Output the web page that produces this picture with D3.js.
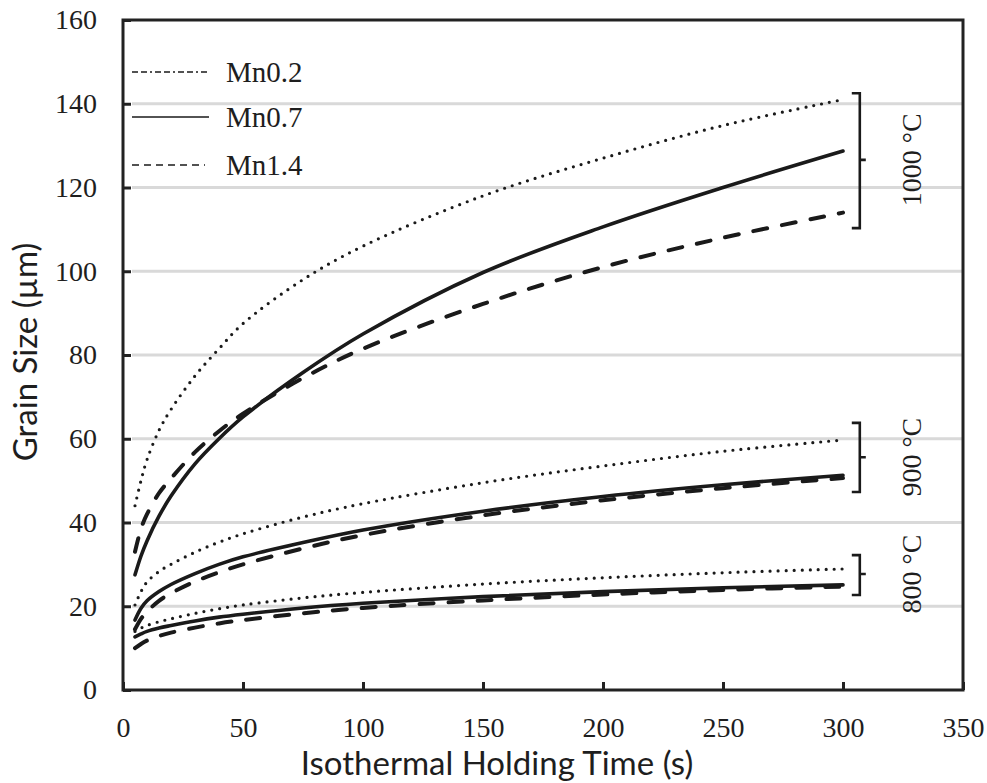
<!DOCTYPE html>
<html>
<head>
<meta charset="utf-8">
<script src="https://cdn.jsdelivr.net/npm/d3@7"></script>
<style>
  body { margin: 0; background: #fff; }
  svg text { fill: #1e1e1e; }
</style>
</head>
<body>
<div id="chart"></div>
<script>
const times = [5, 7.5, 10, 15, 20, 30, 40, 50, 75, 100, 150, 200, 250, 300]

// 1000 C
const mn02_1000 = [44, 50, 55, 62, 67, 75, 81.5, 87.5, 98, 106, 118, 127, 134.8, 141]
const mn07_1000 = [27.5, 32, 35.6, 41.5, 46.3, 54, 60, 65.2, 75.8, 85, 99.7, 110.6, 120, 128.7]
const mn14_1000 = [33, 38.5, 42, 47, 50.5, 56.8, 61.8, 66, 74.5, 81.5, 92.2, 101, 108, 114]
// 900 C
const mn02_900 = [20.3, 23.5, 25.8, 28.3, 30, 32.9, 35.3, 37.3, 41.3, 44.5, 49.5, 53.5, 57, 59.7]
const mn07_900 = [16.7, 19.5, 21.3, 23.5, 25.2, 27.8, 30, 31.8, 35.2, 38.2, 42.7, 46.2, 49, 51.3]
const mn14_900 = [14.5, 17, 18.7, 21.3, 23.1, 25.9, 28.1, 30, 33.8, 37, 41.7, 45.3, 48.2, 50.6]
// 800 C
const mn02_800 = [14, 14.8, 15.4, 16.3, 17, 18.3, 19.4, 20.3, 22, 23.3, 25.3, 26.8, 28, 28.9]
const mn07_800 = [12.7, 13.4, 14, 14.8, 15.4, 16.5, 17.4, 18.1, 19.6, 20.7, 22.3, 23.5, 24.4, 25.1]
const mn14_800 = [10, 11, 11.8, 12.9, 13.7, 14.9, 15.9, 16.7, 18.3, 19.6, 21.4, 22.8, 23.9, 24.7]

const legendNames = ["Mn0.2", "Mn0.7", "Mn1.4"]
const tempLabels = ["1000 °C", "900 °C", "800 °C"]
const bracketTop = [142.5, 63.8, 32.2]
const bracketBottom = [110.3, 47.3, 22.7]
const bracketMid = [126.6, 55.6, 27.7]
const bracketTime = 307

const xTicks = [0, 50, 100, 150, 200, 250, 300, 350]
const yTicks = [0, 20, 40, 60, 80, 100, 120, 140, 160]

const w = 987
const h = 783
const mLeft = 123, mRight = 963, mTop = 20, mBottom = 690

var svg = d3.select("#chart").append("svg")
    .attr("width", w).attr("height", h)

var x = d3.scaleLinear().domain([0, 350]).range([mLeft, mRight])
var y = d3.scaleLinear().domain([0, 160]).range([mBottom, mTop])

// gridlines
svg.selectAll(".grid").data(yTicks.filter(d => d > 0 && d < 160))
    .enter().append("line")
    .attr("class", "grid")
    .attr("x1", mLeft + 9).attr("x2", mRight)
    .attr("y1", d => y(d)).attr("y2", d => y(d))
    .attr("stroke", "#d9d9d9").attr("stroke-width", 3)

// styles per Mn level
const styles = [
    { width: 3.2, dash: "0,8" },
    { width: 3.6, dash: null },
    { width: 4, dash: "14,15" }
]

const series = [
    [mn02_1000, 0], [mn07_1000, 1], [mn14_1000, 2],
    [mn02_900, 0], [mn07_900, 1], [mn14_900, 2],
    [mn02_800, 0], [mn07_800, 1], [mn14_800, 2]
]

var line = d3.line()
    .x((d, i) => x(times[i]))
    .y(d => y(d))
    .curve(d3.curveCatmullRom.alpha(0.5))

svg.selectAll(".curve").data(series)
    .enter().append("path")
    .attr("class", "curve")
    .attr("d", d => line(d[0]))
    .attr("fill", "none")
    .attr("stroke", "#1a1a1a")
    .attr("stroke-width", d => styles[d[1]].width)
    .attr("stroke-dasharray", d => styles[d[1]].dash)
    .attr("stroke-linecap", "round")

// brackets
tempLabels.forEach(function(t, i) {
    var bx = x(bracketTime)
    var y1 = y(bracketTop[i]), y2 = y(bracketBottom[i]), ym = y(bracketMid[i])
    svg.append("path")
        .attr("d", "M" + (bx - 8) + "," + y1 + "H" + bx + "V" + y2 + "H" + (bx - 8)
            + "M" + bx + "," + ym + "H" + (bx + 6))
        .attr("fill", "none").attr("stroke", "#1a1a1a").attr("stroke-width", 2.6)
    svg.append("text")
        .attr("transform", "translate(921," + ym + ") rotate(-90)")
        .attr("text-anchor", "middle")
        .style("font-family", "Liberation Serif")
        .style("font-size", "28px")
        .text(t)
})

// axes
var yAxis = d3.axisLeft(y).tickValues(yTicks).tickSize(-8).tickPadding(26)
var xAxis = d3.axisBottom(x).tickValues(xTicks).tickSize(-8).tickPadding(27)

var gy = svg.append("g").attr("transform", "translate(" + mLeft + ",0)").call(yAxis)
var gx = svg.append("g").attr("transform", "translate(0," + mBottom + ")").call(xAxis)

;[gx, gy].forEach(function(g) {
    g.select(".domain").remove()
    g.selectAll(".tick line").attr("stroke", "#222").attr("stroke-width", 3)
    g.selectAll(".tick text")
        .style("font-family", "Liberation Serif")
        .style("font-size", "28px")
        .attr("fill", "#1e1e1e")
})

// frame
svg.append("rect")
    .attr("x", mLeft).attr("y", mTop)
    .attr("width", mRight - mLeft).attr("height", mBottom - mTop)
    .attr("fill", "none").attr("stroke", "#222").attr("stroke-width", 3)

// legend
const legendY = [72, 117, 165]
const legendDash = ["6,3,6,3,2,3", null, "7,5"]
const legendEnd = [208, 209, 205]
legendNames.forEach(function(n, i) {
    svg.append("line")
        .attr("x1", 132).attr("x2", legendEnd[i])
        .attr("y1", legendY[i]).attr("y2", legendY[i])
        .attr("stroke", "#1a1a1a").attr("stroke-width", 1.6)
        .attr("stroke-dasharray", legendDash[i])
    svg.append("text")
        .attr("x", 226).attr("y", legendY[i] + 10)
        .style("font-family", "Liberation Serif")
        .style("font-size", "29px")
        .text(n)
})

// axis titles
svg.append("text")
    .attr("x", 497).attr("y", 775)
    .attr("text-anchor", "middle")
    .style("font-family", "Lato")
    .style("font-size", "33px")
    .text("Isothermal Holding Time (s)")

svg.append("text")
    .attr("transform", "translate(37,352) rotate(-90)")
    .attr("text-anchor", "middle")
    .style("font-family", "Lato")
    .style("font-size", "33px")
    .text("Grain Size (µm)")
</script>
</body>
</html>
